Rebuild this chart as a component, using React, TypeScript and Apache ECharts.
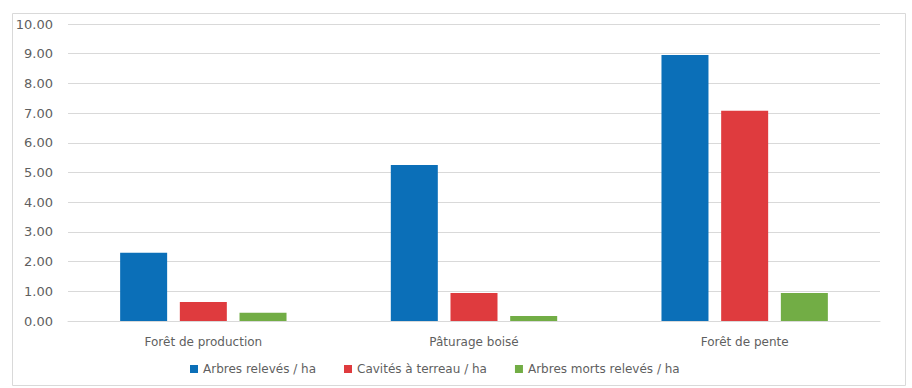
import React, { useEffect, useRef } from "react";
import * as echarts from "echarts";

const categories = ["Forêt de production", "Pâturage boisé", "Forêt de pente"];
const arbresReleves = [2.3, 5.25, 8.96];
const cavitesTerreau = [0.64, 0.94, 7.08];
const arbresMorts = [0.28, 0.17, 0.94];
const seriesNames = ["Arbres relevés / ha", "Cavités à terreau / ha", "Arbres morts relevés / ha"];
const colors = ["#0b6fb8", "#df3b3e", "#72ad45"];

export default function App() {
  const ref = useRef<HTMLDivElement>(null);
  useEffect(() => {
    const chart = echarts.init(ref.current!, null, { renderer: "svg" });
    const font = "'DejaVu Sans', sans-serif";
    const data = [arbresReleves, cavitesTerreau, arbresMorts];
    chart.setOption({
      animation: false,
      backgroundColor: "#fff",
      graphic: [
        {
          type: "rect",
          shape: { x: 12.5, y: 13.5, width: 893, height: 372 },
          style: { fill: "none", stroke: "#d9d9d9", lineWidth: 1 },
        },
      ],
      grid: { left: 68, right: 32, top: 24, bottom: 67 },
      legend: {
        top: 358,
        left: 185,
        itemWidth: 8,
        itemHeight: 8,
        itemGap: 28,
        icon: "rect",
        textStyle: { color: "#5f5f5f", fontSize: 12, fontFamily: font },
        data: seriesNames,
      },
      xAxis: {
        type: "category",
        data: categories,
        axisLine: { lineStyle: { color: "#d9d9d9" } },
        axisTick: { show: false },
        axisLabel: { color: "#5f5f5f", fontSize: 12, fontFamily: font, margin: 15 },
      },
      yAxis: {
        type: "value",
        min: 0,
        max: 10,
        interval: 1,
        axisLine: { show: false },
        axisTick: { show: false },
        axisLabel: {
          color: "#5f5f5f",
          fontSize: 13,
          fontFamily: font,
          margin: 15,
          formatter: (v: number) => v.toFixed(2),
        },
        splitLine: { lineStyle: { color: "#d9d9d9" } },
      },
      series: seriesNames.map((name, i) => ({
        name,
        type: "bar",
        data: data[i],
        barWidth: 47,
        barGap: "27%",
        itemStyle: { color: colors[i] },
      })),
    });
    return () => chart.dispose();
  }, []);
  return (
    <div
      ref={ref}
      style={{ position: "fixed", left: 0, top: 0, width: 912, height: 388 }}
    />
  );
}
